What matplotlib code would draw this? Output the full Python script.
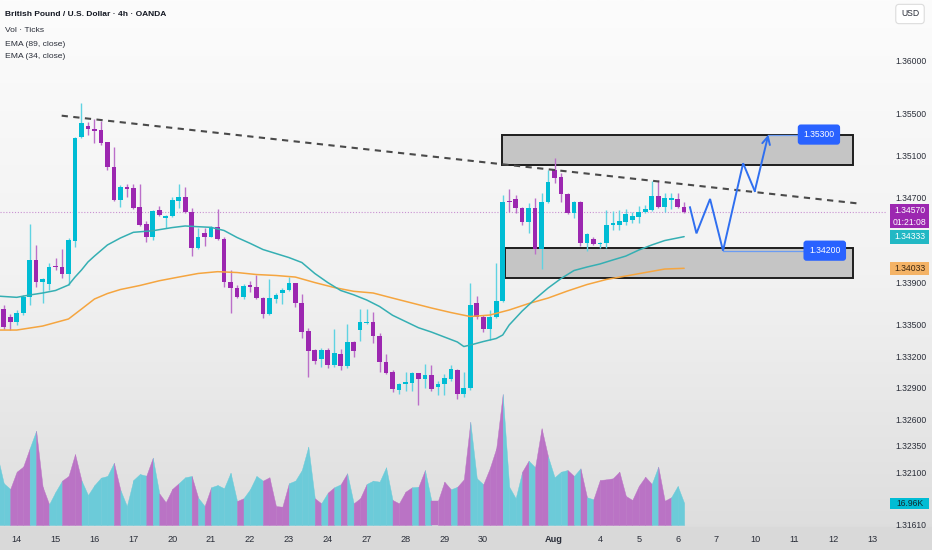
import numpy as np
import matplotlib
matplotlib.use("Agg")
import matplotlib.pyplot as plt
import matplotlib.transforms as mtrans
from matplotlib.patches import Rectangle
from matplotlib.colors import LinearSegmentedColormap
from matplotlib import font_manager

# ---------------- data ----------------
bar_start = -3          # bar index of first candle; 6 four-hour bars per trading day
opens = [1.33800, 1.33648, 1.33572, 1.33524, 1.33610, 1.33761, 1.34112, 1.33903, 1.33884, 1.34055,
         1.34046, 1.33979, 1.34292, 1.35277, 1.35381, 1.35353, 1.35343, 1.35230, 1.34993, 1.34680,
         1.34804, 1.34794, 1.34614, 1.34453, 1.34330, 1.34585, 1.34510, 1.34529, 1.34671, 1.34708,
         1.34566, 1.34226, 1.34368, 1.34330, 1.34425, 1.34311, 1.33903, 1.33846, 1.33761, 1.33875,
         1.33856, 1.33752, 1.33600, 1.33742, 1.33799, 1.33827, 1.33893, 1.33705, 1.33439, 1.33259,
         1.33174, 1.33259, 1.33117, 1.33221, 1.33107, 1.33335, 1.33448, 1.33514, 1.33524, 1.33391,
         1.33145, 1.33050, 1.32880, 1.32937, 1.32946, 1.33041, 1.32984, 1.33022, 1.32908, 1.32937,
         1.32984, 1.33069, 1.32842, 1.32899, 1.33705, 1.33572, 1.33458, 1.33572, 1.33724, 1.34671,
         1.34689, 1.34604, 1.34472, 1.34604, 1.34216, 1.34661, 1.34964, 1.34898, 1.34737, 1.34557,
         1.34661, 1.34273, 1.34311, 1.34263, 1.34273, 1.34444, 1.34444, 1.34472, 1.34491, 1.34520,
         1.34566, 1.34585, 1.34718, 1.34614, 1.34680, 1.34689, 1.34614]
highs = [1.33860, 1.33686, 1.33600, 1.33638, 1.33780, 1.34453, 1.34254, 1.33941, 1.34084, 1.34130,
         1.34216, 1.34320, 1.35277, 1.35600, 1.35419, 1.35448, 1.35428, 1.35233, 1.35183, 1.34823,
         1.34832, 1.34832, 1.34832, 1.34481, 1.34585, 1.34623, 1.34538, 1.34708, 1.34832, 1.34804,
         1.34604, 1.34415, 1.34415, 1.34430, 1.34595, 1.34330, 1.34017, 1.33875, 1.33884, 1.33912,
         1.33970, 1.33760, 1.33932, 1.33799, 1.33846, 1.33950, 1.33896, 1.33789, 1.33467, 1.33268,
         1.33278, 1.33278, 1.33458, 1.33268, 1.33505, 1.33344, 1.33648, 1.33648, 1.33619, 1.33420,
         1.33221, 1.33069, 1.32946, 1.33050, 1.33050, 1.33041, 1.33126, 1.33117, 1.32965, 1.33031,
         1.33117, 1.33079, 1.33050, 1.33893, 1.33770, 1.33591, 1.33638, 1.34084, 1.34727, 1.34785,
         1.34727, 1.34614, 1.34651, 1.34699, 1.34746, 1.34964, 1.35078, 1.34936, 1.34746, 1.34671,
         1.34671, 1.34368, 1.34330, 1.34282, 1.34585, 1.34576, 1.34585, 1.34595, 1.34566, 1.34623,
         1.34633, 1.34860, 1.34870, 1.34746, 1.34746, 1.34746, 1.34661]
lows = [1.33680, 1.33458, 1.33448, 1.33496, 1.33591, 1.33686, 1.33856, 1.33705, 1.33827, 1.34017,
        1.33941, 1.33875, 1.34235, 1.35267, 1.35296, 1.35221, 1.35202, 1.34964, 1.34671, 1.34614,
        1.34709, 1.34595, 1.34434, 1.34282, 1.34301, 1.34529, 1.34415, 1.34520, 1.34604, 1.34557,
        1.34149, 1.34216, 1.34244, 1.34325, 1.34301, 1.33856, 1.33610, 1.33752, 1.33742, 1.33808,
        1.33742, 1.33562, 1.33595, 1.33705, 1.33695, 1.33818, 1.33667, 1.33372, 1.33003, 1.33126,
        1.33098, 1.33088, 1.33098, 1.33069, 1.33088, 1.33192, 1.33344, 1.33505, 1.33325, 1.33050,
        1.33031, 1.32861, 1.32842, 1.32870, 1.32870, 1.32738, 1.32899, 1.32870, 1.32832, 1.32832,
        1.32965, 1.32794, 1.32813, 1.32880, 1.33553, 1.33429, 1.33354, 1.33565, 1.33714, 1.34566,
        1.34557, 1.34444, 1.34368, 1.34168, 1.34026, 1.34651, 1.34841, 1.34661, 1.34548, 1.34510,
        1.34244, 1.34197, 1.34254, 1.34226, 1.34226, 1.34396, 1.34396, 1.34444, 1.34463, 1.34463,
        1.34557, 1.34576, 1.34604, 1.34566, 1.34595, 1.34604, 1.34560]
closes = [1.33720, 1.33477, 1.33524, 1.33610, 1.33761, 1.34112, 1.33903, 1.33932, 1.34046, 1.34046,
          1.33979, 1.34301, 1.35267, 1.35410, 1.35353, 1.35334, 1.35221, 1.34993, 1.34680, 1.34804,
          1.34785, 1.34604, 1.34444, 1.34330, 1.34576, 1.34538, 1.34529, 1.34680, 1.34708, 1.34566,
          1.34226, 1.34330, 1.34330, 1.34425, 1.34311, 1.33903, 1.33846, 1.33761, 1.33865, 1.33856,
          1.33752, 1.33600, 1.33752, 1.33780, 1.33827, 1.33893, 1.33705, 1.33429, 1.33249, 1.33155,
          1.33259, 1.33117, 1.33231, 1.33107, 1.33335, 1.33249, 1.33524, 1.33524, 1.33391, 1.33145,
          1.33041, 1.32889, 1.32937, 1.32956, 1.33041, 1.32984, 1.33022, 1.32889, 1.32937, 1.32994,
          1.33079, 1.32842, 1.32899, 1.33686, 1.33572, 1.33458, 1.33572, 1.33724, 1.34661, 1.34661,
          1.34604, 1.34472, 1.34604, 1.34216, 1.34661, 1.34851, 1.34889, 1.34737, 1.34557, 1.34661,
          1.34273, 1.34358, 1.34263, 1.34273, 1.34444, 1.34463, 1.34481, 1.34548, 1.34529, 1.34566,
          1.34595, 1.34718, 1.34614, 1.34699, 1.34699, 1.34614, 1.34570]
volumes_k = [54.0, 32.2, 27.8, 41.1, 45.0, 59.1, 72.7, 29.5, 16.0, 25.7,
             34.2, 37.8, 54.7, 34.2, 23.1, 30.8, 36.5, 37.8, 48.0, 27.0,
             14.6, 34.7, 39.3, 38.0, 51.9, 24.4, 17.5, 27.8, 32.2, 36.8,
             37.8, 21.0, 14.6, 29.1, 30.8, 28.3, 40.3, 18.5, 20.6, 27.5,
             37.8, 34.2, 36.8, 14.6, 14.1, 32.2, 34.2, 42.4, 60.4, 20.6,
             16.7, 24.9, 29.1, 31.4, 39.9, 16.7, 20.6, 31.6, 34.2, 33.4,
             44.5, 19.3, 16.7, 25.7, 29.1, 29.5, 42.4, 18.5, 18.5, 33.4,
             27.5, 29.5, 35.2, 79.6, 36.0, 31.4, 43.7, 59.1, 101.0, 29.5,
             20.6, 41.1, 49.6, 44.5, 74.6, 52.7, 36.8, 41.1, 42.4, 37.8,
             43.7, 21.4, 19.8, 34.7, 35.2, 36.0, 41.1, 22.4, 19.3, 30.1,
             37.2, 31.6, 45.0, 18.7, 21.4, 30.1, 16.96]
# colour of the volume-area segment that ends at each bar: t = teal, p = purple
volume_segment_colors = list(
    "ttt" "ppp" "t" "pp" "tt" "ppp" "ttttt" "p" "tttt" "p" "t" "ppp" "tt" "p" "t" "p"
    "tttt" "p" "ttt" "pppp" "tttt" "p" "t" "p" "t" "p" "t" "pp" "tttt" "ppp" "t" "p"
    "t" "ppp" "t" "pp" "tt" "ppp" "ttt" "p" "t" "pp" "ttt" "p" "t" "p" "t" "ppppppppp"
    "t" "pp" "tt")

ema34_bars = [-3, 0, 2, 4, 6, 8, 9, 10, 11, 12, 14, 16, 18, 21, 24, 26, 28, 30, 32, 34,
              36, 38, 40, 42, 44, 46, 48, 50, 52, 54, 56, 58, 60, 62, 64, 66, 68, 69, 70, 72,
              74, 75, 76, 78, 80, 82, 84, 86, 88, 90, 92, 94, 96, 98, 100, 103]
ema34_vals = [1.33770, 1.33758, 1.33780, 1.33799, 1.33823, 1.33875, 1.33950, 1.34017, 1.34093, 1.34149,
              1.34254, 1.34320, 1.34374, 1.34389, 1.34419, 1.34434, 1.34427, 1.34421, 1.34391, 1.34325,
              1.34270, 1.34211, 1.34173, 1.34135, 1.34088, 1.33984, 1.33898, 1.33823, 1.33782, 1.33733,
              1.33671, 1.33588, 1.33529, 1.33470, 1.33429, 1.33382, 1.33335, 1.33292, 1.33306, 1.33339,
              1.33368, 1.33401, 1.33496, 1.33628, 1.33742, 1.33846, 1.33936, 1.34012, 1.34045, 1.34074,
              1.34112, 1.34149, 1.34206, 1.34254, 1.34296, 1.34333]
ema89_bars = [-3, 0, 4, 8, 10, 12, 14, 16, 19, 22, 25, 28, 31, 34, 37, 40, 43, 46, 49, 52,
              55, 58, 61, 64, 67, 70, 73, 76, 79, 82, 85, 88, 91, 94, 97, 100, 103]
ema89_vals = [1.33448, 1.33448, 1.33486, 1.33553, 1.33647, 1.33742, 1.33794, 1.33832, 1.33870, 1.33915,
              1.33950, 1.33984, 1.34001, 1.33993, 1.33974, 1.33965, 1.33950, 1.33898, 1.33851, 1.33815,
              1.33799, 1.33751, 1.33704, 1.33657, 1.33614, 1.33576, 1.33590, 1.33638, 1.33699, 1.33751,
              1.33818, 1.33879, 1.33927, 1.33960, 1.33993, 1.34026, 1.34033]

day_labels = ["14", "15", "16", "17", "20", "21", "22", "23", "24", "27", "28", "29", "30",
              "Aug", "4", "5", "6", "7", "10", "11", "12", "13"]
day_slots = [0, 1, 2, 3, 4, 5, 6, 7, 8, 9, 10, 11, 12, 13.82, 15, 16, 17, 18, 19, 20, 21, 22]
bars_per_day = 6
price_ticks = [1.36000, 1.35500, 1.35100, 1.34700, 1.33900, 1.33500, 1.33200, 1.32900,
               1.32600, 1.32350, 1.32100, 1.31610]

# drawings
trend_bars = [6.94, 129.6]
trend_prices = [1.35479, 1.34649]
zone_left = [74.9, 75.3]
zone_right = [129.0, 129.0]
zone_top = [1.35300, 1.34230]
zone_bottom = [1.35010, 1.33940]
path_bars = [103.9, 104.9, 107.0, 109.0, 112.1, 113.9, 116.0]
path_prices = [1.34611, 1.34364, 1.34690, 1.34200, 1.35028, 1.34765, 1.35300]
target_prices = [1.35300, 1.34200]
target_label_bars = [123.8, 124.7]
target_line_from = [116.0, 109.0]

ema34_last = 1.34333
ema89_last = 1.34033
countdown = "01:21:08"

# ---------------- style ----------------
TEAL = "#00bcd4"
PURPLE = "#9c27b0"
TEAL_WICK = "#5fd3e2"
PURPLE_WICK = "#bb6fc9"
VOL_TEAL = "#6ccbd9"
VOL_PURPLE = "#ba73c5"
EMA34_C = "#35afb3"
EMA89_C = "#f5a53f"
BLUE = "#2962ff"

avail = {f.name for f in font_manager.fontManager.ttflist}
FONT = "Liberation Sans Narrow" if "Liberation Sans Narrow" in avail else "Liberation Sans"
plt.rcParams["font.family"] = [FONT, "DejaVu Sans"]

W, H = 932, 550
fig = plt.figure(figsize=(W / 100, H / 100), dpi=100)

# background gradient
bg = fig.add_axes([0, 0, 1, 1], zorder=-10)
grad = np.linspace(0, 1, 256).reshape(-1, 1)
cmap = LinearSegmentedColormap.from_list("bg", ["#fcfcfc", "#f2f2f2", "#dcdcdc"])
bg.imshow(grad, aspect="auto", cmap=cmap, extent=[0, 1, 0, 1], origin="upper")
bg.add_patch(Rectangle((0, 0), 1, 23 / H, color="#d9d9d9", transform=bg.transAxes))
bg.set_xlim(0, 1)
bg.set_ylim(0, 1)
bg.axis("off")

ax_rect = [0, 23 / H, 886 / W, 527 / H]
axv = fig.add_axes(ax_rect, zorder=1)
ax = fig.add_axes(ax_rect, zorder=2, sharex=axv)
for a in (ax, axv):
    a.set_facecolor("none")
    for s in a.spines.values():
        s.set_visible(False)

ax.set_xlim(-2.577, 134.15)
ax.set_ylim(1.31582, 1.36575)
axv.set_ylim(-1.542, 404.8)
axv.axis("off")

n = len(opens)
x = np.arange(bar_start, bar_start + n)
o = np.array(opens); h = np.array(highs); l = np.array(lows); c = np.array(closes)
up = c > o

# volume area
vol = np.array(volumes_k)
for i in range(1, n):
    col = VOL_TEAL if volume_segment_colors[i] == "t" else VOL_PURPLE
    axv.fill_between([x[i - 1], x[i]], [0, 0], [vol[i - 1], vol[i]], color=col,
                     lw=0.3, edgecolor=col)

# zones
for zl, zr, zt, zb in zip(zone_left, zone_right, zone_top, zone_bottom):
    ax.add_patch(Rectangle((zl, zb), zr - zl, zt - zb, facecolor="#c5c5c5",
                           edgecolor="#1e1e1e", lw=1.4, zorder=1.5))

# candles
wick_cols = [TEAL_WICK if u else PURPLE_WICK for u in up]
body_cols = [TEAL if u else PURPLE for u in up]
ax.vlines(x, l, h, colors=wick_cols, lw=1.0, zorder=3)
body_h = np.maximum(np.abs(c - o), 0.00009)
ax.bar(x, body_h, bottom=np.minimum(o, c), width=0.72, color=body_cols, zorder=4, lw=0)

# EMAs
ax.plot(ema89_bars, ema89_vals, color=EMA89_C, lw=1.1, zorder=5, solid_capstyle="round")
ax.plot(ema34_bars, ema34_vals, color=EMA34_C, lw=1.1, zorder=5, solid_capstyle="round")

# current price dotted line
last = closes[-1]
ax.axhline(last, color="#c991d2", lw=0.8, ls=(0, (1, 1.6)), zorder=2)

# trendline
ax.plot(trend_bars, trend_prices, color="#4a4a4a", lw=1.5, ls=(0, (3, 2.6)), zorder=6)

# projected path
ax.plot(path_bars[:-1], path_prices[:-1], color="#2f6ff0", lw=1.4, zorder=7,
        solid_joinstyle="miter")
ax.annotate("", xy=(path_bars[-1], path_prices[-1]), xytext=(path_bars[-2], path_prices[-2]),
            arrowprops=dict(arrowstyle="->,head_length=0.55,head_width=0.28", color="#2f6ff0",
                            lw=1.4, shrinkA=0, shrinkB=0), zorder=7)
for xb, tp, lb in zip(target_line_from, target_prices, target_label_bars):
    ax.plot([xb, lb - 3], [tp, tp], color="#6b9cf2", lw=0.9, zorder=7)
    ax.text(lb, tp, f"{tp:.5f}", ha="center", va="center", color="white", fontsize=6.2,
            zorder=8, bbox=dict(boxstyle="round,pad=0.65,rounding_size=0.35", fc=BLUE, ec="none"))

# axes ticks
ax.yaxis.tick_right()
ax.set_yticks(price_ticks)
ax.set_yticklabels([f"{p:.5f}" for p in price_ticks])
ax.tick_params(axis="y", length=0, pad=6.5, labelsize=6.2, labelcolor="#2a2e39")
ax.set_xticks([s * bars_per_day for s in day_slots])
ax.set_xticklabels(day_labels)
ax.tick_params(axis="x", length=0, pad=6, labelsize=6.6, labelcolor="#2a2e39")
for t in ax.get_xticklabels():
    if t.get_text() == "Aug":
        t.set_fontweight("bold")

# right-hand tags
blend = mtrans.blended_transform_factory(ax.transAxes, ax.transData)
vblend = mtrans.blended_transform_factory(ax.transAxes, axv.transData)
ppx = (1.36575 - 1.31582) / 527.0
vpx = (404.8 + 1.542) / 527.0
tx0 = 890 / 886
tw = 39 / 886
tcx = tx0 + tw / 2


def tag(yv, text, fc, tc, hpx, trans, unit, dy_px=0.0):
    hh = hpx * unit
    yc = yv - dy_px * unit
    ax.add_patch(Rectangle((tx0, yc - hh / 2), tw, hh, transform=trans, facecolor=fc,
                           edgecolor="none", clip_on=False, zorder=20))
    ax.text(tcx, yc, text, transform=trans, ha="center", va="center", color=tc,
            fontsize=6.2, clip_on=False, zorder=21, linespacing=1.45)


tag(last, f"{last:.5f}\n{countdown}", "#9c27b0", "white", 24, blend, ppx, dy_px=4.5)
tag(ema34_last, f"{ema34_last:.5f}", "#22b8c4", "white", 14, blend, ppx)
tag(ema89_last, f"{ema89_last:.5f}", "#f4b366", "#3b2610", 13, blend, ppx)
tag(volumes_k[-1], f"{volumes_k[-1]:.2f}K", "#00bcd4", "#102a30", 11, vblend, vpx)

# header texts
fig.text(5 / W, 1 - 14 / H, "British Pound / U.S. Dollar · 4h · OANDA", fontsize=6.0,
         fontweight="bold", color="#131722", va="center")
fig.text(5 / W, 1 - 30 / H, "Vol · Ticks", fontsize=6.1, color="#2a2e39", va="center")
fig.text(5 / W, 1 - 44 / H, "EMA (89, close)", fontsize=6.1, color="#2a2e39", va="center")
fig.text(5 / W, 1 - 57 / H, "EMA (34, close)", fontsize=6.1, color="#2a2e39", va="center")
fig.text(910 / W, 1 - 14 / H, "USD", fontsize=6.2, color="#2a2e39", ha="center", va="center",
         bbox=dict(boxstyle="round,pad=0.6,rounding_size=0.4", fc="white", ec="#dcdcdc", lw=0.8))

fig.savefig("out.png", dpi=100)
